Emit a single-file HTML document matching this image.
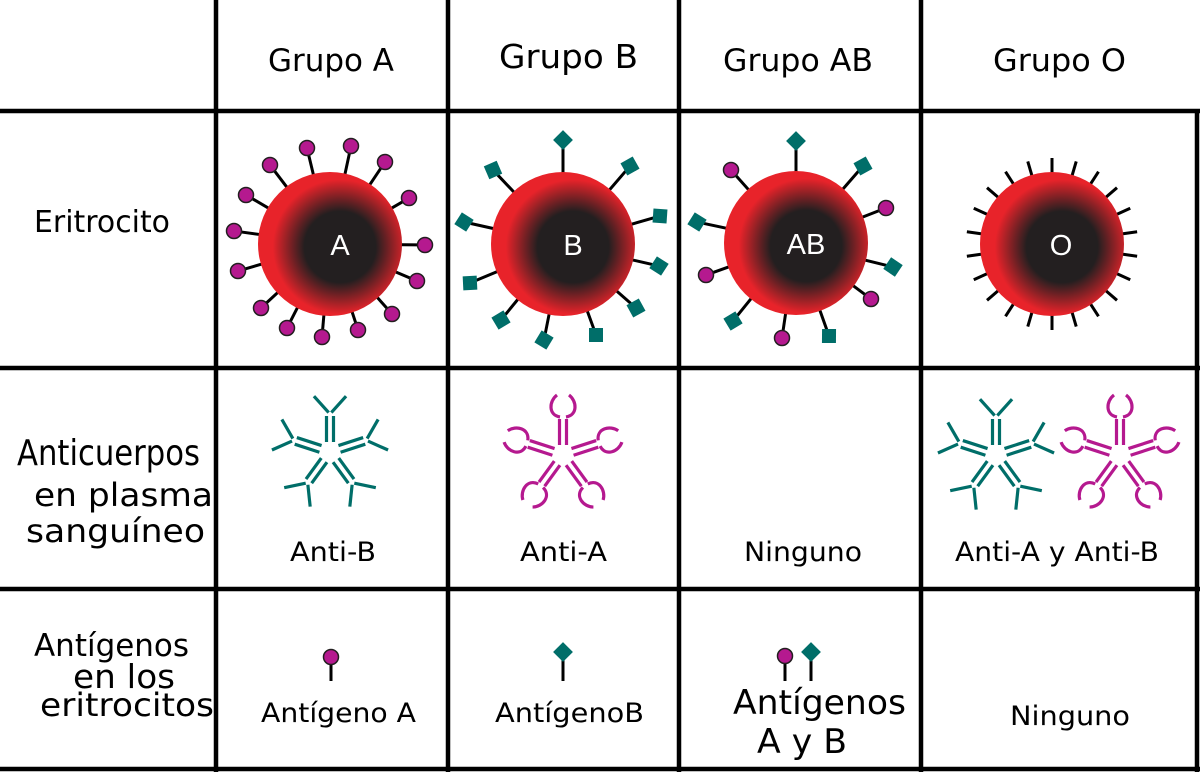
<!DOCTYPE html>
<html><head><meta charset="utf-8"><style>
html,body{margin:0;padding:0;background:#fff;}
svg{display:block;}
text{font-family:"DejaVu Sans","Liberation Sans",sans-serif;fill:#000;}
</style></head><body>
<svg id="s" width="1200" height="772" viewBox="0 0 1200 772" xmlns="http://www.w3.org/2000/svg">
<defs>
<radialGradient id="rbc" cx="0.57" cy="0.52" r="0.55">
<stop offset="0" stop-color="#231f20"/>
<stop offset="0.45" stop-color="#231f20"/>
<stop offset="0.85" stop-color="#e8232a"/>
<stop offset="1" stop-color="#e8232a"/>
</radialGradient>
</defs>
<g stroke="#000" stroke-width="4.5" fill="none">
<line x1="0" y1="111" x2="1200" y2="111"/>
<line x1="0" y1="368" x2="1200" y2="368"/>
<line x1="0" y1="589" x2="1200" y2="589"/>
<line x1="0" y1="769" x2="1200" y2="769"/>
<line x1="216" y1="0" x2="216" y2="772"/>
<line x1="448" y1="0" x2="448" y2="772"/>
<line x1="679" y1="0" x2="679" y2="772"/>
<line x1="921" y1="0" x2="921" y2="772"/>
<line x1="1197" y1="111" x2="1197" y2="772"/>
</g>
<g font-size="31">
<text x="268" y="71" textLength="126" lengthAdjust="spacingAndGlyphs">Grupo A</text>
<text x="499" y="68" font-size="33" textLength="139" lengthAdjust="spacingAndGlyphs">Grupo B</text>
<text x="723" y="71" textLength="150" lengthAdjust="spacingAndGlyphs">Grupo AB</text>
<text x="993" y="71" textLength="133" lengthAdjust="spacingAndGlyphs">Grupo O</text>
<text x="34" y="232" font-size="30" textLength="136" lengthAdjust="spacingAndGlyphs">Eritrocito</text>
<text x="17" y="465" font-size="36" textLength="183" lengthAdjust="spacingAndGlyphs">Anticuerpos</text>
<text x="34" y="506" font-size="32" textLength="179" lengthAdjust="spacingAndGlyphs">en plasma</text>
<text x="26" y="542" font-size="32" textLength="179" lengthAdjust="spacingAndGlyphs">sanguíneo</text>
<text x="290" y="561" font-size="27" textLength="86" lengthAdjust="spacingAndGlyphs">Anti-B</text>
<text x="520" y="561" font-size="27" textLength="87" lengthAdjust="spacingAndGlyphs">Anti-A</text>
<text x="744" y="561" font-size="27" textLength="118" lengthAdjust="spacingAndGlyphs">Ninguno</text>
<text x="955" y="561" font-size="27" textLength="204" lengthAdjust="spacingAndGlyphs">Anti-A y Anti-B</text>
<text x="34" y="656" font-size="31" textLength="155" lengthAdjust="spacingAndGlyphs">Antígenos</text>
<text x="73" y="688" font-size="33" textLength="102" lengthAdjust="spacingAndGlyphs">en los</text>
<text x="40" y="716" font-size="32" textLength="174" lengthAdjust="spacingAndGlyphs">eritrocitos</text>
<text x="261" y="722" font-size="27" textLength="155" lengthAdjust="spacingAndGlyphs">Antígeno A</text>
<text x="495" y="722" font-size="27" textLength="149" lengthAdjust="spacingAndGlyphs">AntígenoB</text>
<text x="733" y="714" font-size="34" textLength="173" lengthAdjust="spacingAndGlyphs">Antígenos</text>
<text x="757" y="753" font-size="34" textLength="90" lengthAdjust="spacingAndGlyphs">A y B</text>
<text x="1010" y="725" font-size="27" textLength="120" lengthAdjust="spacingAndGlyphs">Ninguno</text>
</g>
<g id="dyn"></g>
</svg>
<script>
var g=document.getElementById("dyn"),h="";
var P="#b5198f",T="#006e69";
function ball(x,y){return '<circle cx="'+x+'" cy="'+y+'" r="7.5" fill="'+P+'" stroke="#231f20" stroke-width="1.5"/>';}
function sq(x,y,a){return '<rect x="'+(x-7)+'" y="'+(y-7)+'" width="14" height="14" fill="'+T+'" transform="rotate('+a+' '+x+' '+y+')"/>';}
function cell(cx,cy,pts,lab){
 var s='';
 pts.forEach(function(p){
  var dx=p[0]-cx,dy=p[1]-cy,d=Math.sqrt(dx*dx+dy*dy),ux=dx/d,uy=dy/d;
  var ex=p[0]-ux*7,ey=p[1]-uy*7;
  s+='<line x1="'+(cx+ux*60)+'" y1="'+(cy+uy*60)+'" x2="'+ex+'" y2="'+ey+'" stroke="#000" stroke-width="3"/>';
 });
 s+='<circle cx="'+cx+'" cy="'+cy+'" r="72" fill="url(#rbc)"/>';
 pts.forEach(function(p){
  var ang=Math.atan2(p[1]-cy,p[0]-cx)*180/Math.PI;
  if(p[2]=="b")s+=ball(p[0],p[1]);
  else if(p[2]=="d")s+=sq(p[0],p[1],45);
  else s+=sq(p[0],p[1],ang+20);
 });
 s+='<text x="'+(cx+10)+'" y="'+(cy+11)+'" font-size="29" text-anchor="middle" style="fill:#fff;font-family:\'Liberation Sans\',sans-serif">'+lab+'</text>';
 return s;
}
h+=cell(330,244,[[270,165,"b"],[307,148,"b"],[351,146,"b"],[385,162,"b"],[409,198,"b"],[425,245,"b"],[417,281,"b"],[392,314,"b"],[358,330,"b"],[322,337,"b"],[287,328,"b"],[261,308,"b"],[238,271,"b"],[234,231,"b"],[246,195,"b"]],"A");
h+=cell(563,244,[[563,140,"d"],[630,166,"s"],[660,216,"s"],[659,266,"s"],[636,308,"s"],[596,335,"s"],[544,340,"s"],[501,320,"s"],[470,283,"s"],[464,222,"s"],[493,170,"s"]],"B");
h+=cell(796,243,[[796,141,"d"],[863,166,"s"],[886,208,"b"],[893,267,"s"],[871,299,"b"],[829,336,"s"],[782,338,"b"],[733,321,"s"],[706,275,"b"],[697,222,"s"],[731,170,"b"]],"AB");
var cx=1052,cy=244;
for(var i=0;i<22;i++){var a=i/22*2*Math.PI-Math.PI/2;h+='<line x1="'+(cx+Math.cos(a)*70)+'" y1="'+(cy+Math.sin(a)*70)+'" x2="'+(cx+Math.cos(a)*86)+'" y2="'+(cy+Math.sin(a)*86)+'" stroke="#000" stroke-width="3"/>';}
h+='<circle cx="'+cx+'" cy="'+cy+'" r="72" fill="url(#rbc)"/>';
h+='<text x="1061" y="255" font-size="29" text-anchor="middle" style="fill:#fff;font-family:\'Liberation Sans\',sans-serif">O</text>';
function ab(cx,cy,col,curved){
 var s='<g stroke="'+col+'" stroke-width="3.2" fill="none" stroke-linecap="butt">';
 [-90,-18,54,126,198].forEach(function(deg){
  var a=deg*Math.PI/180,ux=Math.cos(a),uy=Math.sin(a),px=-uy,py=ux;
  for(var k=-1;k<=1;k+=2){var o=k*3.5;
   s+='<line x1="'+(cx+ux*10+px*o)+'" y1="'+(cy+uy*10+py*o)+'" x2="'+(cx+ux*36+px*o)+'" y2="'+(cy+uy*36+py*o)+'"/>';}
  var bx=cx+ux*38,by=cy+uy*38;
  if(!curved){
   [-42,42].forEach(function(d){var b=a+d*Math.PI/180;
    s+='<line x1="'+(bx+Math.cos(b)*2)+'" y1="'+(by+Math.sin(b)*2)+'" x2="'+(bx+Math.cos(b)*24)+'" y2="'+(by+Math.sin(b)*24)+'"/>';});
  }else{
   s+='<g transform="translate('+bx+' '+by+') rotate('+(deg+90)+')">'+
   '<path d="M-3,0 C-15,-2 -14,-16 -6,-22"/><path d="M3,0 C15,-2 14,-16 6,-22"/></g>';
  }
 });
 return s+'</g>';
}
h+=ab(330,452,T,false);
h+=ab(563,455,P,true);
h+=ab(996,455,T,false);
h+=ab(1120,455,P,true);
h+='<line x1="331" y1="663" x2="331" y2="681" stroke="#000" stroke-width="3"/>'+ball(331,657);
h+='<line x1="563" y1="660" x2="563" y2="681" stroke="#000" stroke-width="3"/>'+sq(563,652,45);
h+='<line x1="785" y1="662" x2="785" y2="681" stroke="#000" stroke-width="3"/>'+ball(785,656);
h+='<line x1="811" y1="660" x2="811" y2="681" stroke="#000" stroke-width="3"/>'+sq(811,652,45);
g.innerHTML=h;
</script>
</body></html>
